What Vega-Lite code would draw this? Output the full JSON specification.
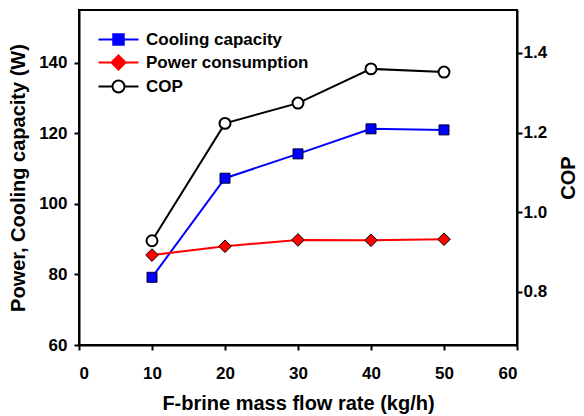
{
  "$schema": "https://vega.github.io/schema/vega-lite/v6.json",
  "width": 438,
  "height": 335,
  "autosize": {"type": "none"},
  "padding": {"left": 79, "top": 10, "right": 67, "bottom": 71},
  "background": "white",
  "data": {
    "values": [
      {"x": 10, "series": "Cooling capacity", "value": 79.2},
      {"x": 20, "series": "Cooling capacity", "value": 107.3},
      {"x": 30, "series": "Cooling capacity", "value": 114.2},
      {"x": 40, "series": "Cooling capacity", "value": 121.3},
      {"x": 50, "series": "Cooling capacity", "value": 121.0},
      {"x": 10, "series": "Power consumption", "value": 85.5},
      {"x": 20, "series": "Power consumption", "value": 88.0},
      {"x": 30, "series": "Power consumption", "value": 89.8},
      {"x": 40, "series": "Power consumption", "value": 89.7},
      {"x": 50, "series": "Power consumption", "value": 90.0},
      {"x": 10, "series": "COP", "value": 0.928},
      {"x": 20, "series": "COP", "value": 1.223},
      {"x": 30, "series": "COP", "value": 1.274},
      {"x": 40, "series": "COP", "value": 1.36},
      {"x": 50, "series": "COP", "value": 1.352}
    ]
  },
  "layer": [
    {
      "encoding": {
        "x": {"field": "x", "type": "quantitative", "scale": {"domain": [0, 60], "nice": false},
              "axis": {"values": [0, 10, 20, 30, 40, 50, 60], "title": "F-brine mass flow rate (kg/h)", "labelPadding": 15, "titlePadding": 12}},
        "y": {"field": "value", "type": "quantitative", "scale": {"domain": [60, 155], "nice": false, "zero": false},
              "axis": {"orient": "left", "values": [60, 80, 100, 120, 140], "title": "Power, Cooling capacity (W)", "labelPadding": 7, "titlePadding": 10}}
      },
      "layer": [
        {
          "transform": [{"filter": "datum.series === 'Cooling capacity'"}],
          "mark": {"type": "line", "strokeWidth": 2, "color": "#0000ff"},
          "encoding": {}
        },
        {
          "transform": [{"filter": "datum.series === 'Power consumption'"}],
          "mark": {"type": "line", "strokeWidth": 2, "color": "#ff0000"},
          "encoding": {}
        },
        {
          "transform": [{"filter": "datum.series === 'Cooling capacity'"}],
          "mark": {"type": "point", "shape": "square", "size": 100, "filled": true, "opacity": 1, "fill": "#0000ff", "stroke": "#000033", "strokeWidth": 1},
          "encoding": {}
        },
        {
          "transform": [{"filter": "datum.series === 'Power consumption'"}],
          "mark": {"type": "point", "shape": "diamond", "size": 160, "filled": true, "opacity": 1, "fill": "#ff0000", "stroke": "#000000", "strokeWidth": 1},
          "encoding": {}
        },
        {
          "transform": [{"filter": "datum.x < 0"}],
          "mark": {"type": "point", "opacity": 1, "strokeWidth": 2},
          "encoding": {
            "shape": {"field": "series", "type": "nominal",
                      "scale": {"domain": ["Cooling capacity", "Power consumption", "COP"],
                                "range": ["M-2.857,0H2.857M-0.75,-0.75H0.75V0.75H-0.75Z", "M-2.857,0H2.857M0,-1L1,0L0,1L-1,0Z", "M-2.857,0H-0.857M0.857,0H2.857M0.857,0C0.857,0.4734,0.4734,0.857,0,0.857C-0.4734,0.857,-0.857,0.4734,-0.857,0C-0.857,-0.4734,-0.4734,-0.857,0,-0.857C0.4734,-0.857,0.857,-0.4734,0.857,0Z"]},
                      "legend": {
                        "title": null, "orient": "none", "legendX": 31, "legendY": 21, "padding": 0,
                        "symbolSize": 196, "symbolStrokeWidth": 2, "labelOffset": 19, "rowPadding": 2, "symbolOpacity": 1, "labelLimit": 0,
                        "labelFont": "Liberation Sans", "labelFontSize": 17, "labelFontWeight": "bold", "labelColor": "black"
                      }},
            "fill": {"field": "series", "type": "nominal",
                     "scale": {"domain": ["Cooling capacity", "Power consumption", "COP"], "range": ["#0000ff", "#ff0000", "#ffffff"]},
                     "legend": {
                        "title": null, "orient": "none", "legendX": 31, "legendY": 21, "padding": 0,
                        "symbolSize": 196, "symbolStrokeWidth": 2, "labelOffset": 19, "rowPadding": 2, "symbolOpacity": 1, "labelLimit": 0,
                        "labelFont": "Liberation Sans", "labelFontSize": 17, "labelFontWeight": "bold", "labelColor": "black"
                      }},
            "stroke": {"field": "series", "type": "nominal",
                       "scale": {"domain": ["Cooling capacity", "Power consumption", "COP"], "range": ["#0000ff", "#ff0000", "#000000"]},
                       "legend": {
                        "title": null, "orient": "none", "legendX": 31, "legendY": 21, "padding": 0,
                        "symbolSize": 196, "symbolStrokeWidth": 2, "labelOffset": 19, "rowPadding": 2, "symbolOpacity": 1, "labelLimit": 0,
                        "labelFont": "Liberation Sans", "labelFontSize": 17, "labelFontWeight": "bold", "labelColor": "black"
                      }}
          }
        }
      ]
    },
    {
      "transform": [{"filter": "datum.series === 'COP'"}],
      "encoding": {
        "x": {"field": "x", "type": "quantitative", "scale": {"domain": [0, 60], "nice": false}},
        "y": {"field": "value", "type": "quantitative", "scale": {"domain": [0.666, 1.508], "nice": false, "zero": false},
              "axis": {"orient": "right", "values": [0.8, 1.0, 1.2, 1.4], "format": ".1f", "title": "COP", "titleAngle": 270, "labelPadding": 1, "titlePadding": 32}}
      },
      "layer": [
        {
          "mark": {"type": "line", "strokeWidth": 2, "color": "#000000"},
          "encoding": {}
        },
        {
          "mark": {"type": "point", "shape": "circle", "size": 120, "filled": true, "opacity": 1, "fill": "#ffffff", "stroke": "#000000", "strokeWidth": 2},
          "encoding": {}
        }
      ]
    }
  ],
  "resolve": {"scale": {"y": "independent"}},
  "config": {
    "view": {"stroke": "#000000", "strokeWidth": 2},
    "axis": {
      "grid": false,
      "labelFont": "Liberation Sans", "labelFontSize": 17, "labelFontWeight": "bold", "labelColor": "#000000",
      "titleFont": "Liberation Sans", "titleFontSize": 20, "titleFontWeight": "bold", "titleColor": "#000000",
      "domainColor": "#000000", "domainWidth": 2, "tickColor": "#000000", "tickWidth": 2, "tickSize": 5
    }
  }
}
